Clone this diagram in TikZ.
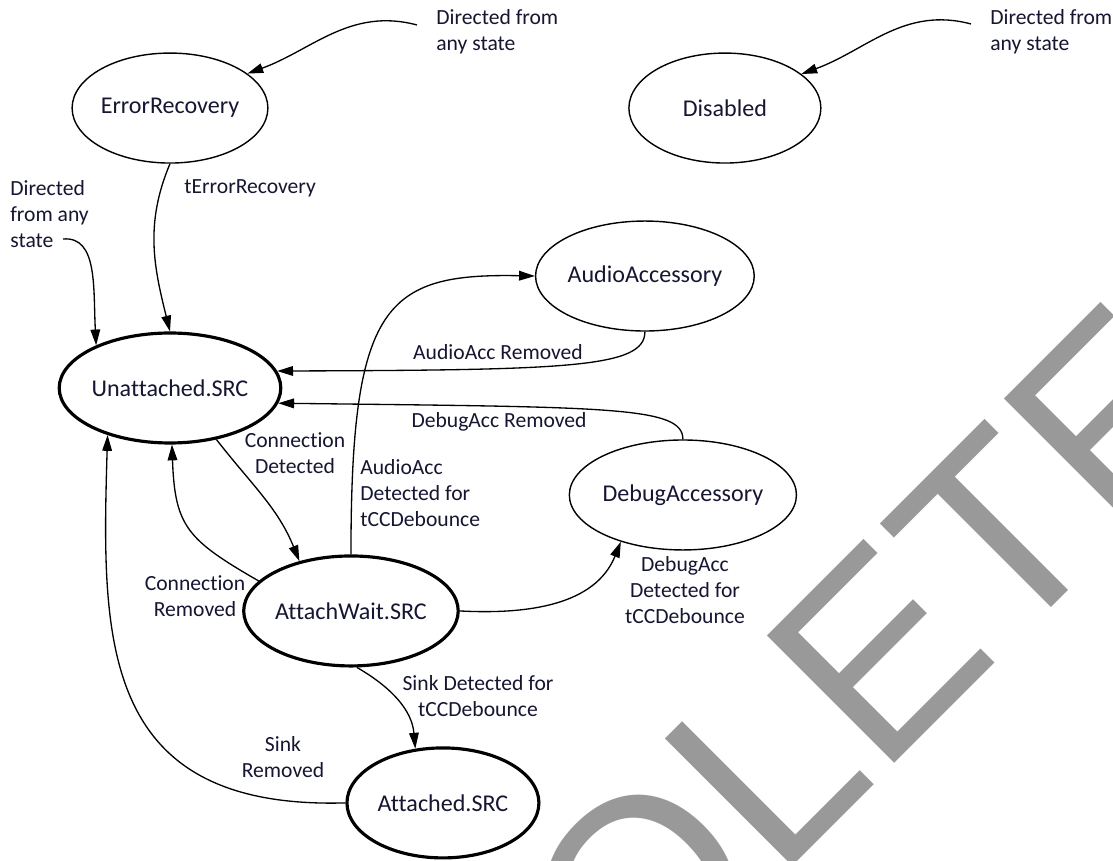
\documentclass[tikz,border=0pt]{standalone}
\usepackage{fontspec}
\setmainfont{Carlito}[Ligatures=CommonOff]
\newfontfamily\wmfont[Kerning=Off]{Liberation Sans}
\usetikzlibrary{shapes.geometric,arrows.meta,positioning}
\definecolor{txtcol}{RGB}{22,22,50}
\definecolor{wmgray}{RGB}{153,153,153}
\newcommand{\statefont}{\fontsize{13.7}{16}\selectfont}
\newcommand{\lblfont}{\fontsize{12.3}{14.6}\selectfont}

\begin{document}
\begin{tikzpicture}[x=0.02cm, y=0.02cm, on grid,
	statenode/.style={ellipse, draw, line width=0.8pt, minimum width=3.84cm, minimum height=2.2cm, inner sep=0pt, font=\statefont, text=txtcol},
	srcnode/.style={statenode, line width=1.8pt},
	trans/.style={-{Triangle[length=9pt,width=5.5pt]}, line width=0.75pt},
	lbl/.style={font=\lblfont, text=txtcol, inner sep=0pt},
	wmark/.style={font=\wmfont\fontsize{149}{150}\selectfont, text=wmgray, rotate=45, anchor=base, inner sep=0pt}]
	\useasboundingbox (0,0) rectangle (1113,-861);
	\fill[white] (0,0) rectangle (1113,-861);

	\node[wmark](Watermark) at (741,-917.5){OBSOLETE};

	\node[srcnode](Unattached) at (170,-388){Unattached.SRC};
	\node[statenode, above=5.6cm of Unattached](ErrorRecovery){ErrorRecovery};
	\node[statenode, right=11.1cm of ErrorRecovery](Disabled){Disabled};
	\node[srcnode, below right=4.46cm and 3.62cm of Unattached](AttachWait){AttachWait.SRC};
	\node[srcnode, below right=3.84cm and 1.84cm of AttachWait](Attached){Attached.SRC};
	\node[statenode, above right=6.7cm and 5.88cm of AttachWait](AudioAccessory){AudioAccessory};
	\node[statenode, above right=2.32cm and 6.64cm of AttachWait](DebugAccessory){DebugAccessory};

	\node[lbl, anchor=west, align=left](ErrNoteText) at (436,-32){Directed from\\any state};
	\node[lbl, anchor=west, align=left](DisNoteText) at (990,-32){Directed from\\any state};
	\node[lbl, anchor=west, align=left](AnyNoteText) at (10,-214){Directed\\from any\\state};
	\coordinate(ErrNote) at (417,-25);
	\coordinate(DisNote) at (971,-24);
	\coordinate(AnyNote) at (63,-239);

	\draw[trans] (ErrNote) to[out=165,in=20] (ErrorRecovery.24);
	\draw[trans] (DisNote) to[out=165,in=20] (Disabled.24);
	\draw[trans] (AnyNote) .. controls +(35,3) and +(-3,57) .. (Unattached.150);

	\node[lbl, anchor=west](tErrLbl) at (184,-188){tErrorRecovery};
	\draw[trans] (ErrorRecovery.south) to[out=247,in=104] (Unattached.north);

	\node[lbl](AudioRemLbl) at (498,-352){AudioAcc Removed};
	\node[lbl](DebugRemLbl) at (499,-422){DebugAcc Removed};
	\draw[trans] (AudioAccessory.south) .. controls +(0,-36) and +(292,1) .. (Unattached.9);
	\draw[trans] (DebugAccessory.north) .. controls +(0,33) and +(332,-4) .. (Unattached.-8);

	\node[lbl, align=center](ConnDetLbl) at (295,-453){Connection\\Detected};
	\node[lbl, align=center](ConnRemLbl) at (195,-596){Connection\\Removed};
	\draw[trans] (Unattached.-48) to[out=-52,in=112] (AttachWait.136);
	\draw[trans] (AttachWait.162) to[out=150,in=272,looseness=1.3] (Unattached.-88);

	\node[lbl, anchor=west, align=left](AudioDetLbl) at (360,-493){AudioAcc\\Detected for\\tCCDebounce};
	\draw[trans] (AttachWait.north) .. controls +(0,250) and +(-150,3) .. (AudioAccessory.west);

	\node[lbl, align=center](DebugDetLbl) at (685,-590){DebugAcc\\Detected for\\tCCDebounce};
	\draw[trans] (AttachWait.east) to[out=-3,in=248] (DebugAccessory.217);

	\node[lbl, align=center](SinkDetLbl) at (478,-696){Sink Detected for\\tCCDebounce};
	\draw[trans] (AttachWait.-84) to[out=-30,in=95] (Attached.117);

	\node[lbl, align=center](SinkRemLbl) at (283,-757){Sink\\Removed};
	\draw[trans] (Attached.west) .. controls +(-247,-7) and +(-6,-203) .. (Unattached.217);

\end{tikzpicture}
\end{document}
